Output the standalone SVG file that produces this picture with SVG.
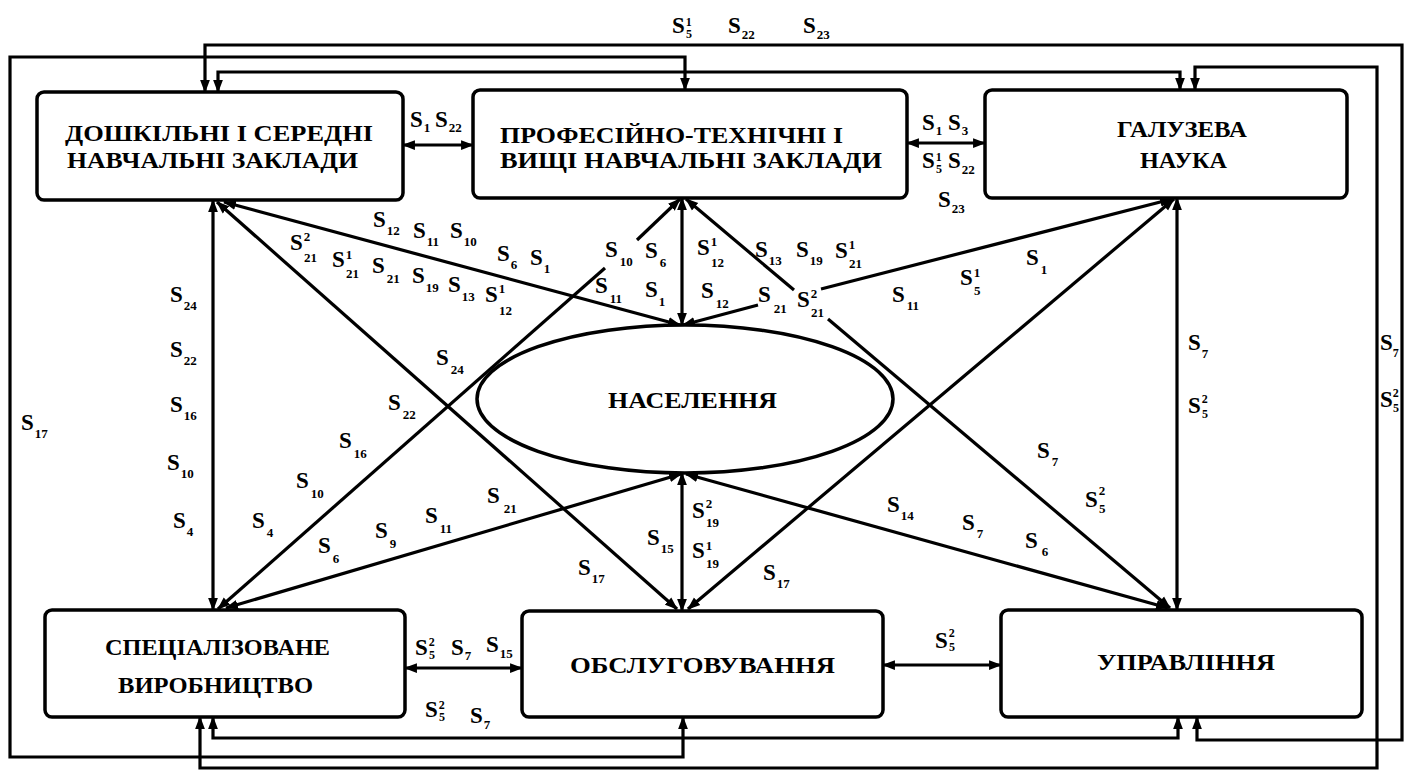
<svg xmlns="http://www.w3.org/2000/svg" width="1410" height="771" viewBox="0 0 1410 771">
<style>
.box{fill:#fff;stroke:#000;stroke-width:3.5}
.ell{fill:#fff;stroke:#000;stroke-width:3.5}
.nt{font-family:"Liberation Serif","Times New Roman",serif;font-weight:bold;font-size:23px;fill:#000}
.ln{fill:none;stroke:#000;stroke-width:3.2}
.both{marker-start:url(#ah);marker-end:url(#ah)}
.st{marker-start:url(#ah)}
.en{marker-end:url(#ah)}
.l{font-family:"Liberation Serif","Times New Roman",serif;font-weight:bold;font-size:23px;fill:#000}
.d{font-size:13px}
.c{font-size:12px}
</style>
<defs>
<marker id="ah" viewBox="0 0 12 10" refX="11" refY="5" markerWidth="13" markerHeight="11" markerUnits="userSpaceOnUse" orient="auto-start-reverse">
<path d="M0,0.5 L12,5 L0,9.5 z" fill="#000"/>
</marker>
</defs>
<rect width="1410" height="771" fill="#fff"/>

<g id="connectors">
<path class="ln both" d="M205,92 V45 H1402 V740 H1197 V717"/>
<path class="ln both" d="M685,90 V57 H10 V757 H683 V717"/>
<path class="ln both" d="M218,92 V72 H1180 V90"/>
<path class="ln both" d="M1195,90 V67 H1377 V768 H200 V717"/>
<path class="ln both" d="M213,717 V738 H1178 V717"/>
<path class="ln both" d="M403,145 H473"/>
<path class="ln both" d="M907,143 H985"/>
<path class="ln both" d="M405,668 H522"/>
<path class="ln both" d="M883,665 H1001"/>
<path class="ln both" d="M213,200 V610"/>
<path class="ln both" d="M1177,198 V610"/>
<path class="ln both" d="M682,198 V325"/>
<path class="ln both" d="M682,473 V611"/>
<path class="ln both" d="M224,202 L680,325"/>
<path class="ln both" d="M217,202 L677,609"/>
<path class="ln st" d="M218,609 L605,268"/>
<path class="ln en" d="M637,240 L680,199"/>
<path class="ln both" d="M226,608 L681,474"/>
<path class="ln st" d="M683,325 L758,305"/>
<path class="ln en" d="M821,289 L1172,199"/>
<path class="ln st" d="M686,199 L794,290"/>
<path class="ln en" d="M828,319 L1170,608"/>
<path class="ln both" d="M1174,199 L688,609"/>
<path class="ln both" d="M686,474 L1168,608"/>
</g>

<g id="node-doshkilni">
<rect class="box" x="37" y="92" width="366" height="108" rx="7"/>
<text class="nt" x="65" y="141" textLength="308" lengthAdjust="spacingAndGlyphs">ДОШКІЛЬНІ І СЕРЕДНІ</text>
<text class="nt" x="67" y="168" textLength="291" lengthAdjust="spacingAndGlyphs">НАВЧАЛЬНІ ЗАКЛАДИ</text>
</g>
<g id="node-profesiino">
<rect class="box" x="473" y="90" width="434" height="108" rx="7"/>
<text class="nt" x="500" y="143" textLength="343" lengthAdjust="spacingAndGlyphs">ПРОФЕСІЙНО-ТЕХНІЧНІ І</text>
<text class="nt" x="500" y="168" textLength="382" lengthAdjust="spacingAndGlyphs">ВИЩІ НАВЧАЛЬНІ ЗАКЛАДИ</text>
</g>
<g id="node-nauka">
<rect class="box" x="985" y="90" width="362" height="108" rx="7"/>
<text class="nt" x="1117" y="137" textLength="130" lengthAdjust="spacingAndGlyphs">ГАЛУЗЕВА</text>
<text class="nt" x="1140" y="168" textLength="87" lengthAdjust="spacingAndGlyphs">НАУКА</text>
</g>
<g id="node-naselennia">
<ellipse class="ell" cx="685" cy="399" rx="208" ry="74"/>
<text class="nt" x="608" y="408" textLength="169" lengthAdjust="spacingAndGlyphs">НАСЕЛЕННЯ</text>
</g>
<g id="node-vyrobnytstvo">
<rect class="box" x="45" y="610" width="360" height="107" rx="7"/>
<text class="nt" x="105" y="655" textLength="225" lengthAdjust="spacingAndGlyphs">СПЕЦІАЛІЗОВАНЕ</text>
<text class="nt" x="118" y="693" textLength="195" lengthAdjust="spacingAndGlyphs">ВИРОБНИЦТВО</text>
</g>
<g id="node-obsluhovuvannia">
<rect class="box" x="522" y="611" width="361" height="106" rx="7"/>
<text class="nt" x="570" y="673" textLength="265" lengthAdjust="spacingAndGlyphs">ОБСЛУГОВУВАННЯ</text>
</g>
<g id="node-upravlinnia">
<rect class="box" x="1001" y="610" width="361" height="107" rx="7"/>
<text class="nt" x="1097" y="670" textLength="178" lengthAdjust="spacingAndGlyphs">УПРАВЛІННЯ</text>
</g>

<g id="labels">
<text class="l" x="672" y="33">S<tspan class="c" dx="1" dy="-7">1</tspan><tspan class="c" x="686" dy="12">5</tspan></text>
<text class="l" x="728" y="33">S<tspan class="d" dx="1" dy="6">22</tspan></text>
<text class="l" x="803" y="33">S<tspan class="d" dx="1" dy="6">23</tspan></text>
<text class="l" x="410" y="127">S<tspan class="d" dx="1" dy="5">1</tspan></text>
<text class="l" x="435" y="127">S<tspan class="d" dx="1" dy="5">22</tspan></text>
<text class="l" x="922" y="130">S<tspan class="d" dx="1" dy="5">1</tspan></text>
<text class="l" x="948" y="130">S<tspan class="d" dx="1" dy="5">3</tspan></text>
<text class="l" x="922" y="168">S<tspan class="c" dx="1" dy="-7">1</tspan><tspan class="c" x="936" dy="12">5</tspan></text>
<text class="l" x="948" y="168">S<tspan class="d" dx="1" dy="6">22</tspan></text>
<text class="l" x="938" y="207">S<tspan class="d" dx="1" dy="6">23</tspan></text>
<text class="l" x="170" y="302">S<tspan class="d" dx="1" dy="8">24</tspan></text>
<text class="l" x="170" y="357">S<tspan class="d" dx="1" dy="8">22</tspan></text>
<text class="l" x="170" y="412">S<tspan class="d" dx="1" dy="8">16</tspan></text>
<text class="l" x="167" y="470">S<tspan class="d" dx="1" dy="8">10</tspan></text>
<text class="l" x="173" y="528">S<tspan class="d" dx="1" dy="8">4</tspan></text>
<text class="l" x="21" y="430">S<tspan class="d" dx="1" dy="8">17</tspan></text>
<text class="l" x="373" y="227">S<tspan class="d" dx="1" dy="8">12</tspan></text>
<text class="l" x="413" y="238">S<tspan class="d" dx="1" dy="8">11</tspan></text>
<text class="l" x="450" y="238">S<tspan class="d" dx="1" dy="8">10</tspan></text>
<text class="l" x="497" y="261">S<tspan class="d" dx="1" dy="8">6</tspan></text>
<text class="l" x="530" y="265">S<tspan class="d" dx="1" dy="8">1</tspan></text>
<text class="l" x="290" y="250">S<tspan class="d" dx="1" dy="-9">2</tspan><tspan class="d" x="304" dy="21">21</tspan></text>
<text class="l" x="332" y="267">S<tspan class="d" dx="1" dy="-8">1</tspan><tspan class="d" x="346" dy="19">21</tspan></text>
<text class="l" x="372" y="273">S<tspan class="d" dx="2" dy="10">21</tspan></text>
<text class="l" x="412" y="283">S<tspan class="d" dx="1" dy="9">19</tspan></text>
<text class="l" x="448" y="292">S<tspan class="d" dx="1" dy="9">13</tspan></text>
<text class="l" x="485" y="302">S<tspan class="d" dx="1" dy="-9">1</tspan><tspan class="d" x="499" dy="22">12</tspan></text>
<text class="l" x="605" y="257">S<tspan class="d" dx="2" dy="9">10</tspan></text>
<text class="l" x="645" y="258">S<tspan class="d" dx="2" dy="9">6</tspan></text>
<text class="l" x="595" y="293">S<tspan class="d" dx="2" dy="10">11</tspan></text>
<text class="l" x="645" y="297">S<tspan class="d" dx="1" dy="9">1</tspan></text>
<text class="l" x="697" y="255">S<tspan class="d" dx="1" dy="-9">1</tspan><tspan class="d" x="711" dy="21">12</tspan></text>
<text class="l" x="755" y="257">S<tspan class="d" dx="1" dy="8">13</tspan></text>
<text class="l" x="796" y="257">S<tspan class="d" dx="1" dy="8">19</tspan></text>
<text class="l" x="835" y="258">S<tspan class="d" dx="1" dy="-9">1</tspan><tspan class="d" x="849" dy="19">21</tspan></text>
<text class="l" x="701" y="298">S<tspan class="d" dx="2" dy="10">12</tspan></text>
<text class="l" x="758" y="302">S<tspan class="d" dx="3" dy="11">21</tspan></text>
<text class="l" x="797" y="307">S<tspan class="d" dx="1" dy="-9">2</tspan><tspan class="d" x="811" dy="19">21</tspan></text>
<text class="l" x="892" y="302">S<tspan class="d" dx="2" dy="8">11</tspan></text>
<text class="l" x="960" y="285">S<tspan class="d" dx="1" dy="-8">1</tspan><tspan class="d" x="974" dy="18">5</tspan></text>
<text class="l" x="1026" y="265">S<tspan class="d" dx="2" dy="9">1</tspan></text>
<text class="l" x="1188" y="350">S<tspan class="d" dx="1" dy="8">7</tspan></text>
<text class="l" x="1188" y="413">S<tspan class="c" dx="1" dy="-10">2</tspan><tspan class="c" x="1202" dy="15">5</tspan></text>
<text class="l" x="1380" y="350">S<tspan class="c" dx="0" dy="7">7</tspan></text>
<text class="l" x="1380" y="407">S<tspan class="c" dx="0" dy="-10">2</tspan><tspan class="c" x="1393" dy="15">5</tspan></text>
<text class="l" x="436" y="365">S<tspan class="d" dx="2" dy="9">24</tspan></text>
<text class="l" x="388" y="410">S<tspan class="d" dx="2" dy="9">22</tspan></text>
<text class="l" x="339" y="448">S<tspan class="d" dx="2" dy="10">16</tspan></text>
<text class="l" x="296" y="488">S<tspan class="d" dx="2" dy="10">10</tspan></text>
<text class="l" x="252" y="528">S<tspan class="d" dx="2" dy="9">4</tspan></text>
<text class="l" x="318" y="553">S<tspan class="d" dx="2" dy="10">6</tspan></text>
<text class="l" x="375" y="538">S<tspan class="d" dx="2" dy="10">9</tspan></text>
<text class="l" x="425" y="523">S<tspan class="d" dx="2" dy="10">11</tspan></text>
<text class="l" x="487" y="503">S<tspan class="d" dx="4" dy="10">21</tspan></text>
<text class="l" x="578" y="575">S<tspan class="d" dx="1" dy="8">17</tspan></text>
<text class="l" x="647" y="545">S<tspan class="d" dx="1" dy="8">15</tspan></text>
<text class="l" x="692" y="518">S<tspan class="d" dx="1" dy="-10">2</tspan><tspan class="d" x="706" dy="19">19</tspan></text>
<text class="l" x="692" y="558">S<tspan class="d" dx="1" dy="-8">1</tspan><tspan class="d" x="706" dy="18">19</tspan></text>
<text class="l" x="763" y="580">S<tspan class="d" dx="1" dy="8">17</tspan></text>
<text class="l" x="887" y="512">S<tspan class="d" dx="1" dy="8">14</tspan></text>
<text class="l" x="1037" y="458">S<tspan class="d" dx="2" dy="8">7</tspan></text>
<text class="l" x="1085" y="507">S<tspan class="d" dx="1" dy="-12">2</tspan><tspan class="d" x="1099" dy="18">5</tspan></text>
<text class="l" x="962" y="530">S<tspan class="d" dx="2" dy="8">7</tspan></text>
<text class="l" x="1025" y="548">S<tspan class="d" dx="4" dy="8">6</tspan></text>
<text class="l" x="415" y="655">S<tspan class="c" dx="1" dy="-9">2</tspan><tspan class="c" x="429" dy="13">5</tspan></text>
<text class="l" x="451" y="655">S<tspan class="d" dx="1" dy="5">7</tspan></text>
<text class="l" x="486" y="652">S<tspan class="d" dx="1" dy="6">15</tspan></text>
<text class="l" x="425" y="717">S<tspan class="c" dx="1" dy="-8">2</tspan><tspan class="c" x="439" dy="12">5</tspan></text>
<text class="l" x="470" y="723">S<tspan class="d" dx="1" dy="6">7</tspan></text>
<text class="l" x="935" y="648">S<tspan class="c" dx="1" dy="-11">2</tspan><tspan class="c" x="949" dy="14">5</tspan></text>
</g>
</svg>
